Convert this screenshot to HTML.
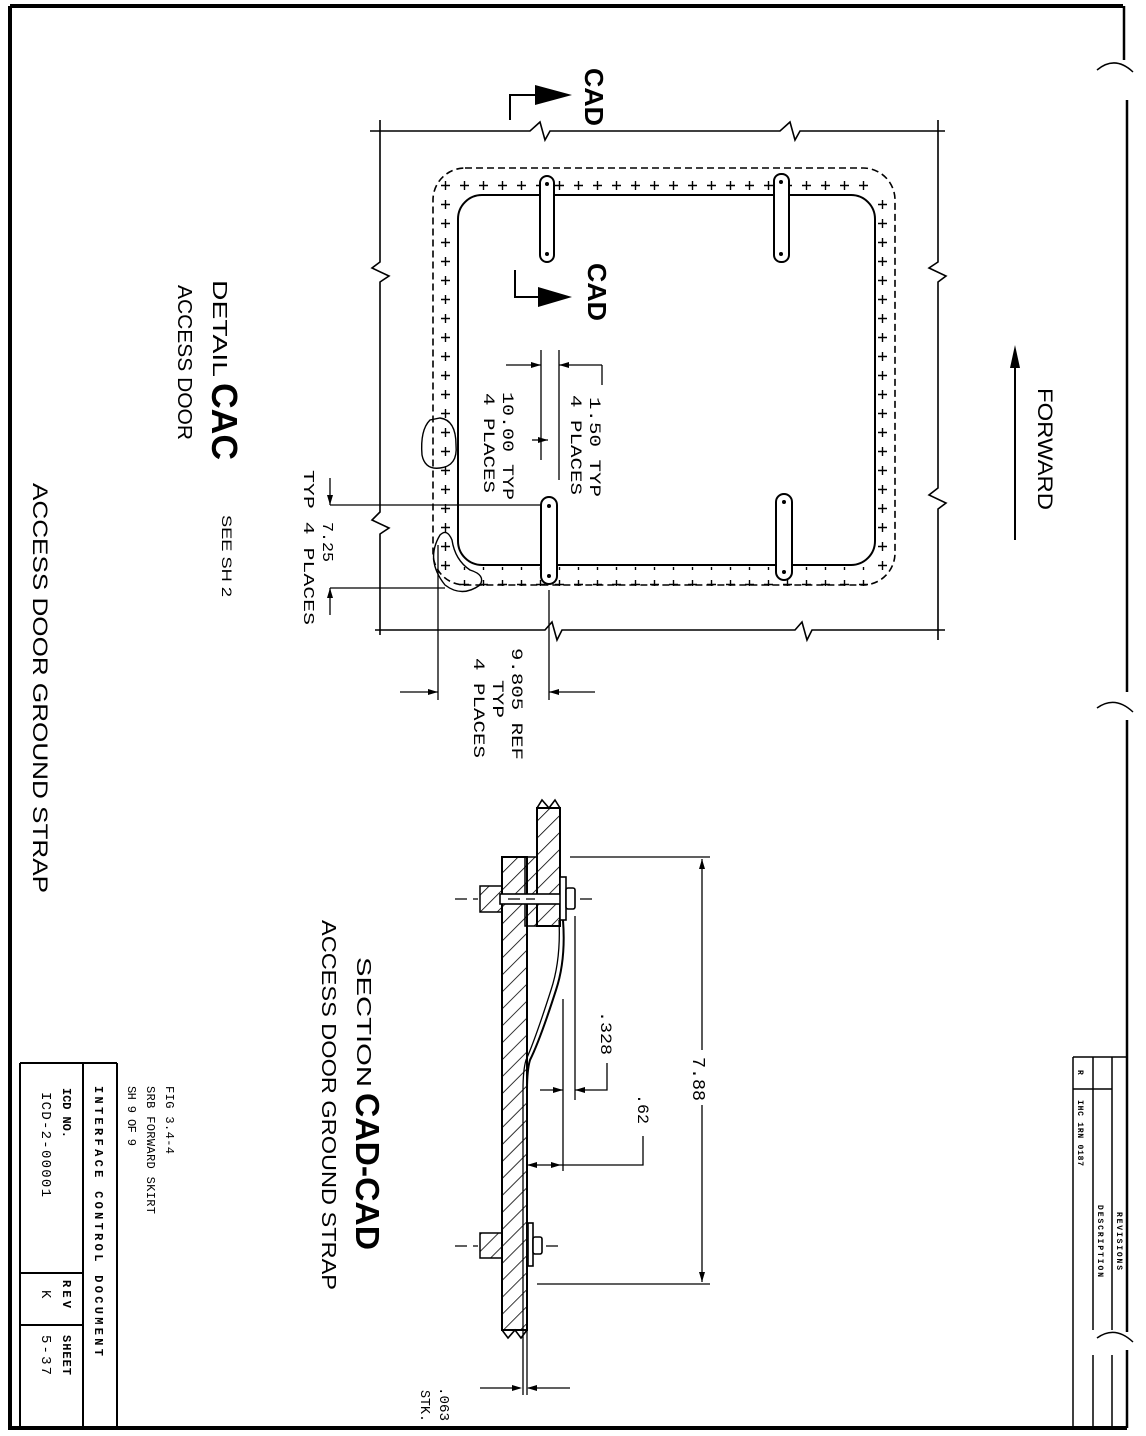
<!DOCTYPE html>
<html><head><meta charset="utf-8"><style>
html,body{margin:0;padding:0;background:#fff}
svg{display:block}
text{font-family:"Liberation Sans",sans-serif;fill:#000}
.m{font-family:"Liberation Mono",monospace}
</style></head><body>
<svg width="1146" height="1436" viewBox="0 0 1146 1436" xmlns="http://www.w3.org/2000/svg">
<defs>
<pattern id="pl" width="19" height="19" patternUnits="userSpaceOnUse" x="436" y="176">
<path d="M5 9.5h9M9.5 5v9" stroke="#000" stroke-width="1.4"/>
</pattern>
<pattern id="hat" width="12" height="12" patternUnits="userSpaceOnUse" patternTransform="rotate(45)">
<path d="M0 0v12" stroke="#000" stroke-width="1.6"/>
</pattern>
</defs>
<g fill="none" stroke="#000">
<path d="M10 6H1123M10 6V1428H1127" stroke-width="4"/>
<path d="M1124 6V60M1127 100V692M1127 720V1332M1127 1350V1428" stroke-width="2.5"/>
<path d="M1097 70Q1115 55 1133 72M1097 708Q1115 695 1133 712M1097 1338Q1115 1325 1133 1342" stroke-width="1.5"/>
<path d="M1073 1057H1127M1073 1057V1428M1093 1057V1330M1112 1057V1330M1073 1089H1112M1093 1355V1428M1112 1355V1428" stroke-width="1.5"/>
<path d="M20 1063H117M20 1063V1428M83 1063V1428M117 1063V1428M20 1273H83M20 1325H83" stroke-width="2"/>
<path d="M370 131H530L540 122L545 140L550 131H780L790 122L795 140L800 131H945" stroke-width="1.6"/>
<path d="M375 630H545L552 622L557 640L562 630H795L802 622L807 640L812 630H945" stroke-width="1.6"/>
<path d="M380 120V262L372 268L389 276L380 282V512L372 520L389 528L380 534V635" stroke-width="1.6"/>
<path d="M938 120V262L929 268L946 276L938 282V488L929 495L946 503L938 509V640" stroke-width="1.6"/>
<rect x="433" y="168" width="462" height="417" rx="32" stroke-width="1.6" stroke-dasharray="7,4"/>
<rect x="458" y="195" width="417" height="370" rx="24" stroke-width="2"/>
</g>
<rect x="436" y="176" width="19" height="400" fill="url(#pl)"/>
<rect x="874" y="195" width="19" height="380" fill="url(#pl)"/>
<rect x="455" y="176" width="420" height="19" fill="url(#pl)"/>
<rect x="455" y="567" width="420" height="19" fill="url(#pl)"/>
<g fill="#fff" stroke="#000" stroke-width="2">
<rect x="540" y="176" width="14" height="86" rx="7"/>
<rect x="774" y="174" width="15" height="88" rx="7"/>
<rect x="541" y="497" width="16" height="87" rx="8"/>
<rect x="776" y="494" width="16" height="86" rx="8"/>
</g>
<g fill="#000"><circle cx="547" cy="184" r="2"/><circle cx="547" cy="254" r="2"/><circle cx="781" cy="182" r="2"/><circle cx="781" cy="254" r="2"/><circle cx="549" cy="506" r="2"/><circle cx="549" cy="576" r="2"/><circle cx="784" cy="502" r="2"/><circle cx="784" cy="572" r="2"/></g>
<g fill="none" stroke="#000" stroke-width="1.4">
<path d="M430 420Q420 430 422 455Q425 470 440 468Q458 466 456 445Q456 420 440 418Z"/>
<path d="M440 535Q425 560 445 585Q462 598 480 585Q486 575 470 570Q455 560 452 540Q447 528 440 535Z"/>
<path d="M510 120V95H545M515 270V297H545" stroke-width="2"/>
</g>
<path d="M535 85L572 95L535 105Z M538 287L572 297L538 307Z" fill="#000"/>
<g fill="none" stroke="#000" stroke-width="1.3">
<path d="M541 350V460M559 350V480M506 365H541M602 365H559V365M602 365V385"/>
<path d="M532 440H548"/>
<path d="M330 505H541M330 588H445M330 478V505M330 615V588"/>
<path d="M438 545V700M549 590V700M400 692H438M595 692H549"/>
<path d="M1015 540V350" stroke-width="2"/>
</g>
<path d="M1015 345L1010 368L1020 368Z" fill="#000"/>
<g fill="#000">
<path d="M541 365l-10-3v6zM559 365l10-3v6zM548 440l-10-3v6zM330 505l-3-10h6zM330 588l3 10h-6zM438 692l-10-3v6zM549 692l10-3v6z"/>
</g>
<!-- section -->
<rect x="502" y="857" width="25" height="473" fill="url(#hat)" stroke="#000" stroke-width="2"/>
<path d="M502 1330L508 1338L515 1330L521 1338L527 1330" fill="none" stroke="#000" stroke-width="1.6"/>
<rect x="537" y="808" width="23" height="118" fill="url(#hat)" stroke="#000" stroke-width="2"/>
<path d="M537 808L542 800L549 808L555 800L560 808" fill="none" stroke="#000" stroke-width="1.6"/>
<rect x="525" y="857" width="12" height="69" fill="url(#hat)" stroke="#000" stroke-width="1.5"/>
<rect x="480" y="886" width="22" height="26" fill="url(#hat)" stroke="#000" stroke-width="1.5"/>
<rect x="480" y="1233" width="22" height="25" fill="url(#hat)" stroke="#000" stroke-width="1.5"/>
<g fill="#fff" stroke="#000" stroke-width="1.6">
<rect x="500" y="894" width="62" height="10"/>
<rect x="560" y="877" width="6" height="43"/>
<rect x="566" y="888" width="9" height="21" rx="2"/>
<rect x="528" y="1223" width="5" height="43"/>
<rect x="533" y="1237" width="9" height="17" rx="2"/>
</g>
<g fill="none" stroke="#000">
<path d="M563 920Q566 960 556 990Q540 1040 530 1060Q527 1070 527 1090V1266" stroke-width="2"/>
<path d="M559 920Q561 960 551 990Q535 1040 526 1060Q523 1070 523 1090V1395" stroke-width="1.3"/>
<path d="M527 1266V1395" stroke-width="1.3"/>
<path d="M455 899H478M508 899H535M580 899H592M455 1246H478M546 1246H560" stroke-width="1.3" stroke-dasharray="12,6"/>
<path d="M570 857H710M537 1284H710M702 859V1050M702 1105V1282" stroke-width="1.3"/>
<path d="M575 916V1100M563 999V1171M540 1090H563M575 1090H607V1063M527 1165H561M561 1165H643V1136" stroke-width="1.3"/>
<path d="M480 1388H520M528 1388H570" stroke-width="1.3"/>
</g>
<g fill="#000">
<path d="M702 859l-3 10h6zM702 1282l-3-10h6zM563 1090l-10-3v6zM575 1090l10-3v6zM527 1165l10-3v6zM561 1165l-10-3v6zM522 1388l-10-3v6zM527 1388l10-3v6z"/>
</g>
<g>
<text transform="translate(585,68) rotate(90)" font-size="26" font-weight="bold" textLength="58" lengthAdjust="spacingAndGlyphs">CAD</text>
<text transform="translate(588,263) rotate(90)" font-size="26" font-weight="bold" textLength="58" lengthAdjust="spacingAndGlyphs">CAD</text>
<text transform="translate(1038,388) rotate(90)" font-size="21" textLength="122" lengthAdjust="spacingAndGlyphs">FORWARD</text>
<text transform="translate(213,280) rotate(90)" font-size="20" textLength="97" lengthAdjust="spacingAndGlyphs">DETAIL</text>
<text transform="translate(212,383) rotate(90)" font-size="36" font-weight="bold" textLength="77" lengthAdjust="spacingAndGlyphs">CAC</text>
<text transform="translate(178,285) rotate(90)" font-size="20" textLength="155" lengthAdjust="spacingAndGlyphs">ACCESS DOOR</text>
<text transform="translate(222,515) rotate(90)" font-size="14" textLength="82" lengthAdjust="spacingAndGlyphs">SEE SH 2</text>
<text transform="translate(33,483) rotate(90)" font-size="21" textLength="410" lengthAdjust="spacingAndGlyphs">ACCESS DOOR GROUND STRAP</text>
<text transform="translate(357,957) rotate(90)" font-size="20" textLength="130" lengthAdjust="spacingAndGlyphs">SECTION</text>
<text transform="translate(356,1093) rotate(90)" font-size="33" font-weight="bold" textLength="157" lengthAdjust="spacingAndGlyphs">CAD-CAD</text>
<text transform="translate(322,920) rotate(90)" font-size="20" textLength="370" lengthAdjust="spacingAndGlyphs">ACCESS DOOR GROUND STRAP</text>
<text class="m" transform="translate(590,397) rotate(90)" font-size="16" textLength="100" lengthAdjust="spacingAndGlyphs">1.50 TYP</text>
<text class="m" transform="translate(571,395) rotate(90)" font-size="16" textLength="100" lengthAdjust="spacingAndGlyphs">4 PLACES</text>
<text class="m" transform="translate(503,392) rotate(90)" font-size="16" textLength="108" lengthAdjust="spacingAndGlyphs">10.00 TYP</text>
<text class="m" transform="translate(484,393) rotate(90)" font-size="16" textLength="100" lengthAdjust="spacingAndGlyphs">4 PLACES</text>
<text class="m" transform="translate(323,522) rotate(90)" font-size="15" textLength="40" lengthAdjust="spacingAndGlyphs">7.25</text>
<text class="m" transform="translate(304,470) rotate(90)" font-size="15" textLength="155" lengthAdjust="spacingAndGlyphs">TYP  4 PLACES</text>
<text class="m" transform="translate(512,648) rotate(90)" font-size="16" textLength="112" lengthAdjust="spacingAndGlyphs">9.805 REF</text>
<text class="m" transform="translate(493,680) rotate(90)" font-size="16" textLength="38" lengthAdjust="spacingAndGlyphs">TYP</text>
<text class="m" transform="translate(474,658) rotate(90)" font-size="16" textLength="100" lengthAdjust="spacingAndGlyphs">4 PLACES</text>
<text class="m" transform="translate(693,1057) rotate(90)" font-size="18" textLength="44" lengthAdjust="spacingAndGlyphs">7.88</text>
<text class="m" transform="translate(601,1011) rotate(90)" font-size="16" textLength="44" lengthAdjust="spacingAndGlyphs">.328</text>
<text class="m" transform="translate(638,1094) rotate(90)" font-size="16" textLength="30" lengthAdjust="spacingAndGlyphs">.62</text>
<text class="m" transform="translate(440,1387) rotate(90)" font-size="14" textLength="34" lengthAdjust="spacingAndGlyphs">.063</text>
<text class="m" transform="translate(421,1390) rotate(90)" font-size="14" textLength="32" lengthAdjust="spacingAndGlyphs">STK.</text>
<text class="m" transform="translate(166,1086) rotate(90)" font-size="12" textLength="68">FIG 3.4-4</text>
<text class="m" transform="translate(147,1086) rotate(90)" font-size="12" textLength="128">SRB FORWARD SKIRT</text>
<text class="m" transform="translate(128,1086) rotate(90)" font-size="12" textLength="60">SH 9 OF 9</text>
<text class="m" transform="translate(95,1086) rotate(90)" font-size="12" font-weight="bold" textLength="270">INTERFACE CONTROL DOCUMENT</text>
<text class="m" transform="translate(63,1088) rotate(90)" font-size="12" font-weight="bold" textLength="50">ICD NO.</text>
<text class="m" transform="translate(42,1092) rotate(90)" font-size="14" textLength="105">ICD-2-00001</text>
<text class="m" transform="translate(63,1280) rotate(90)" font-size="12" font-weight="bold" textLength="28">REV</text>
<text class="m" transform="translate(42,1290) rotate(90)" font-size="14">K</text>
<text class="m" transform="translate(63,1335) rotate(90)" font-size="12" font-weight="bold" textLength="40">SHEET</text>
<text class="m" transform="translate(42,1335) rotate(90)" font-size="14" textLength="40">5-37</text>
<text class="m" transform="translate(1078,1070) rotate(90)" font-size="8" font-weight="bold">R</text>
<text class="m" transform="translate(1078,1100) rotate(90)" font-size="8" font-weight="bold" textLength="66">IHC 1RN 0187</text>
<text class="m" transform="translate(1117,1212) rotate(90)" font-size="8" font-weight="bold" textLength="58">REVISIONS</text>
<text class="m" transform="translate(1098,1205) rotate(90)" font-size="8" font-weight="bold" textLength="72">DESCRIPTION</text>
</g>
</svg>
</body></html>
